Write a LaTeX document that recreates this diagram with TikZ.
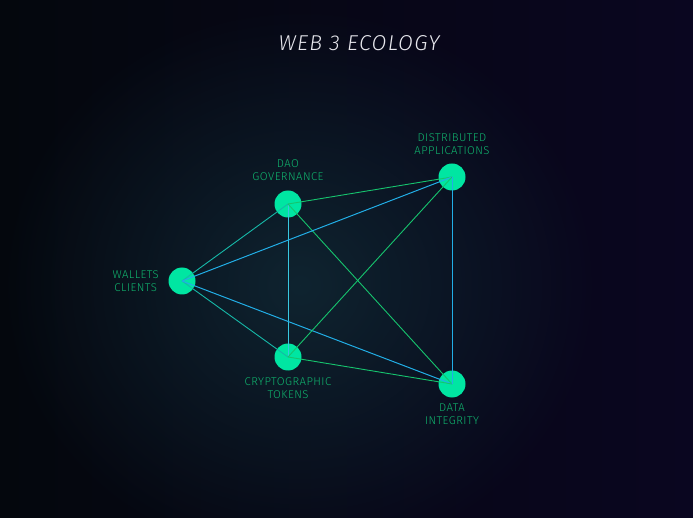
\documentclass[tikz,border=0pt]{standalone}
\usepackage{fontspec}
\setmainfont{Fira Sans}[UprightFont=* Light, ItalicFont=* Light Italic]
\newfontfamily\titlefont{Fira Sans}[UprightFont=* Light Italic, LetterSpace=6]
\newfontfamily\labfont{Fira Sans}[UprightFont=* Light, LetterSpace=4]
\usetikzlibrary{fadings}
\tikzfading[name=glowfade, inner color=transparent!0, outer color=transparent!100]
\definecolor{bgL}{HTML}{04070D}
\definecolor{bgR}{HTML}{0A0620}
\definecolor{glow}{HTML}{0F2430}
\definecolor{nodefill}{HTML}{00E6A2}
\definecolor{lbl}{HTML}{10B46E}
\definecolor{lgreen}{HTML}{16C46E}
\definecolor{lblue}{HTML}{22AEE6}
\definecolor{lteal}{HTML}{16B8A8}
\definecolor{lcyan}{HTML}{38C8E0}
\definecolor{titlec}{HTML}{E8E8EE}
\tikzset{
  dot/.style={circle,fill=nodefill,minimum size=27pt,inner sep=0pt,draw=none},
  lab/.style={text=lbl,font=\labfont\fontsize{11.3pt}{12.8pt}\selectfont,align=center,inner sep=0pt},
  eg/.style={draw=lgreen,line width=0.9pt},
  eb/.style={draw=lblue,line width=1pt},
  et/.style={draw=lteal,line width=0.9pt},
  ec/.style={draw=lcyan,line width=0.9pt},
}
\begin{document}
\begin{tikzpicture}[x=1pt,y=-1pt]
\useasboundingbox (0,0) rectangle (693,518);
\shade[left color=bgL,right color=bgR] (0,0) rectangle (693,518);
\fill[glow,path fading=glowfade] (300,285) ellipse (300 and 280);
\node[text=titlec,font=\titlefont\fontsize{21.5pt}{24pt}\selectfont] (title) at (359,43) {WEB 3 ECOLOGY};
\node[dot] (dao) at (288,204) {};
\node[dot] (dapp) at (452,177) {};
\node[dot] (wal) at (182,281) {};
\node[dot] (cry) at (288,357) {};
\node[dot] (dat) at (452,384) {};
\draw[eg] (dao.center) -- (dapp.center);
\draw[et] (dao.center) -- (wal.center);
\draw[ec] (dao.center) -- (cry.center);
\draw[eg] (dao.center) -- (dat.center);
\draw[eb] (wal.center) -- (dapp.center);
\draw[et] (wal.center) -- (cry.center);
\draw[eb] (wal.center) -- (dat.center);
\draw[eg] (cry.center) -- (dapp.center);
\draw[eg] (cry.center) -- (dat.center);
\draw[eb] (dapp.center) -- (dat.center);
\node[lab] (ldao) at (288,170) {DAO\\GOVERNANCE};
\node[lab] (ldapp) at (452,144) {DISTRIBUTED\\APPLICATIONS};
\node[lab,anchor=east] (lwal) at (159,281) {WALLETS\\CLIENTS};
\node[lab] (lcry) at (288,388) {CRYPTOGRAPHIC\\TOKENS};
\node[lab] (ldat) at (452,414) {DATA\\INTEGRITY};
\end{tikzpicture}
\end{document}
